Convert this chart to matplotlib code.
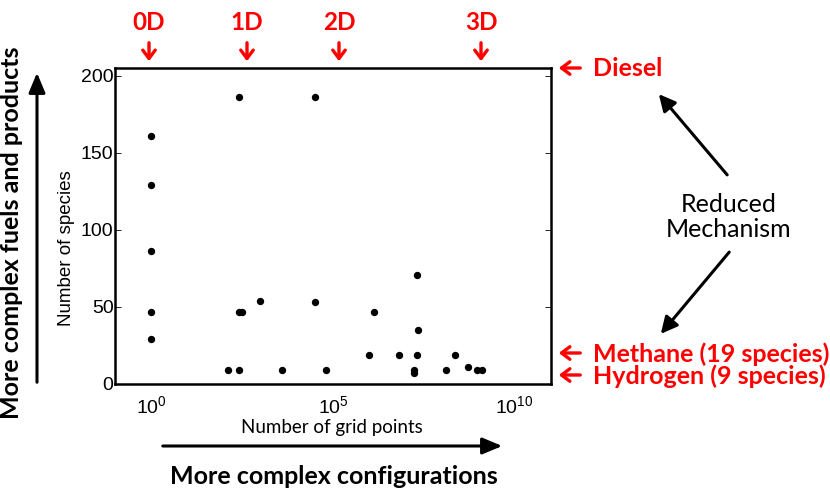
import matplotlib
matplotlib.use("Agg")
import matplotlib.pyplot as plt

# ---- data ----
grid_points = [1, 1, 1, 1, 1,
               263, 31623,
               263, 309, 977, 31623,
               132, 263, 3981, 66070,
               2.0e7, 1.38e6, 2.24e7,
               9.55e5, 6.46e6, 2.0e7, 2.24e8,
               1.66e7, 1.66e7, 1.29e8, 5.13e8, 9.33e8, 1.26e9]
species = [161, 129, 86, 47, 29,
           186, 186,
           47, 47, 54, 53,
           9, 9, 9, 9,
           71, 47, 35,
           19, 19, 19, 19,
           9, 7, 9, 11, 9, 9]
x_ticks = [1, 1e5, 1e10]
x_ticklabels = [r"$10^{0}$", r"$10^{5}$", r"$10^{10}$"]
y_ticks = [0, 50, 100, 150, 200]
dims = ["0D", "1D", "2D", "3D"]
fuels = ["Diesel", "Methane (19 species)", "Hydrogen (9 species)"]

W, H = 830, 492
fig = plt.figure(figsize=(W / 100, H / 100), dpi=100)
plt.rcParams["mathtext.fontset"] = "custom"
plt.rcParams["mathtext.rm"] = "Liberation Sans"

def fx(px):
    return px / W

def fy(py):
    return 1 - py / H

ax = fig.add_axes([fx(115), fy(384), fx(551) - fx(115), fy(68) - fy(384)])
ax.scatter(grid_points, species, s=28, color="black", zorder=3, linewidths=0)
ax.set_xscale("log")
ax.set_xlim(1e-1, 1e11)
ax.set_ylim(0, 205)
ax.set_xticks(x_ticks)
ax.set_xticklabels(x_ticklabels)
ax.minorticks_off()
ax.set_yticks(y_ticks)
for s in ax.spines.values():
    s.set_linewidth(1.8)
ax.tick_params(direction="in", length=4, width=0.6, right=True, top=False,
               labelsize=14, pad=1)
ax.tick_params(axis="x", length=0, pad=8)
for lab in ax.get_xticklabels() + ax.get_yticklabels():
    lab.set_fontfamily("Liberation Sans")

cal = "Lato"
fig.text(fx(66), fy(248), "Number of species", rotation=90, ha="center", va="center",
         fontsize=13.5, family="Liberation Sans")
fig.text(fx(332), fy(427), "Number of grid points", ha="center", va="center",
         fontsize=13.5, family=cal)

# dimension labels and arrows
dim_x = [149, 247, 339, 481]
for d, px in zip(dims, dim_x):
    fig.text(fx(px), fy(22), d, ha="center", va="center", color="red",
             fontsize=17.5, fontweight="bold", family=cal)
    fig.patches.append(matplotlib.patches.FancyArrowPatch(
        (fx(px), fy(40)), (fx(px), fy(64)), transform=fig.transFigure,
        arrowstyle="->,head_length=6,head_width=4.5", color="red", lw=2.4,
        mutation_scale=1))

# fuel labels
fuel_y = [69, 354, 376]
for f, py in zip(fuels, fuel_y):
    fig.text(fx(593), fy(py), f, ha="left", va="center", color="red",
             fontsize=18, fontweight="bold", family=cal)
    fig.patches.append(matplotlib.patches.FancyArrowPatch(
        (fx(583), fy(py - 1)), (fx(556), fy(py - 1)), transform=fig.transFigure,
        arrowstyle="->,head_length=6,head_width=4.5", color="red", lw=2.4,
        mutation_scale=1))

# reduced mechanism
fig.text(fx(729), fy(217), "Reduced\nMechanism", ha="center", va="center",
         fontsize=18, family=cal, linespacing=1.15)
for tail, head in [((729, 177), (657, 92)), ((731, 250), (659, 336))]:
    fig.patches.append(matplotlib.patches.FancyArrowPatch(
        (fx(tail[0]), fy(tail[1])), (fx(head[0]), fy(head[1])),
        transform=fig.transFigure,
        arrowstyle="-|>,head_length=10,head_width=5", color="black", lw=2.2,
        mutation_scale=1))

# left and bottom labels with arrows
fig.text(fx(12), fy(233), "More complex fuels and products", rotation=90,
         ha="center", va="center", fontsize=18, fontweight="bold", family=cal)
fig.patches.append(matplotlib.patches.FancyArrowPatch(
    (fx(37), fy(385)), (fx(37), fy(70)), transform=fig.transFigure,
    arrowstyle="-|>,head_length=12,head_width=5", color="black", lw=2.2,
    mutation_scale=1))
fig.text(fx(334), fy(476), "More complex configurations", ha="center", va="center",
         fontsize=18, fontweight="bold", family=cal)
fig.patches.append(matplotlib.patches.FancyArrowPatch(
    (fx(160), fy(446)), (fx(505), fy(446)), transform=fig.transFigure,
    arrowstyle="-|>,head_length=12,head_width=5", color="black", lw=2.2,
    mutation_scale=1))

fig.savefig("out.png", dpi=100)
